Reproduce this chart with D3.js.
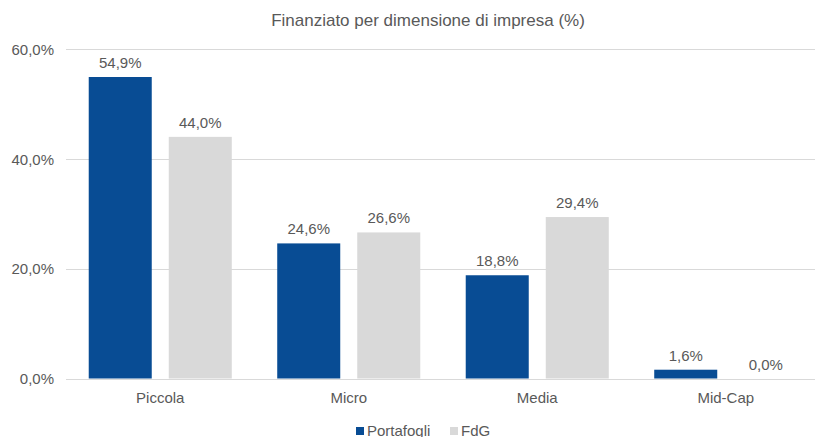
<!DOCTYPE html>
<html>
<head>
<meta charset="utf-8">
<script src="https://cdn.jsdelivr.net/npm/d3@7"></script>
<style>
  body { margin: 0; background: #fff; }
  text { font-family: "Liberation Sans", Arial, sans-serif; fill: #595959; }
</style>
</head>
<body>
<div id="chart"></div>
<script>
var categories = ["Piccola", "Micro", "Media", "Mid-Cap"];
var seriesNames = ["Portafogli", "FdG"];
var portafogli = [54.9, 24.6, 18.8, 1.6];
var fdg = [44.0, 26.6, 29.4, 0.0];
var yTicks = [0, 20, 40, 60];

var colors = {"Portafogli": "#084C94", "FdG": "#D9D9D9"};

var width = 815, height = 437;
var margin = {top: 49, bottom: 58, left: 66, right: -5};

var svg = d3.select("#chart")
  .append("svg")
    .attr("width", width)
    .attr("height", height);

var x = d3.scaleBand()
  .domain(categories)
  .range([margin.left, width - margin.right])
  .paddingInner(0)
  .paddingOuter(0);

var x1 = d3.scaleBand()
  .domain(seriesNames)
  .range([0, x.bandwidth()])
  .paddingInner(0.2125)
  .paddingOuter(0.284);

var y = d3.scaleLinear()
  .domain([0, 60])
  .range([height - margin.bottom - 0.5, margin.top]);

var fmt = function(v) { return d3.format(".1f")(v).replace(".", ",") + "%"; };

// title
svg.append("text")
  .attr("x", 428)
  .attr("y", 26)
  .attr("text-anchor", "middle")
  .style("font-size", "17px")
  .text("Finanziato per dimensione di impresa (%)");

// gridlines
svg.append("g")
  .selectAll("line")
  .data(yTicks)
  .enter()
  .append("line")
    .attr("x1", margin.left)
    .attr("x2", width)
    .attr("y1", function(d) { return Math.round(y(d)) + 0.5; })
    .attr("y2", function(d) { return Math.round(y(d)) + 0.5; })
    .attr("stroke", "#D9D9D9")
    .attr("stroke-width", 1);

// y axis labels
var yAxis = svg.append("g")
  .attr("transform", "translate(" + (margin.left - 12) + ",0)")
  .call(d3.axisLeft(y).tickValues(yTicks).tickSize(0).tickFormat(fmt));
yAxis.select(".domain").remove();
yAxis.selectAll("text")
  .attr("x", 0)
  .attr("dy", "0.35em")
  .style("font-size", "15px")
  .style("fill", "#595959");

// x axis labels
var xAxis = svg.append("g")
  .attr("transform", "translate(0," + (height - margin.bottom) + ")")
  .call(d3.axisBottom(x).tickSize(0));
xAxis.select(".domain").remove();
xAxis.selectAll("text")
  .attr("y", 13)
  .attr("dy", "0.71em")
  .style("font-size", "15px")
  .style("fill", "#595959");

var rows = categories.map(function(c, i) {
  return {cat: c, values: [
    {name: "Portafogli", value: portafogli[i]},
    {name: "FdG", value: fdg[i]}
  ]};
});

var groups = svg.append("g")
  .selectAll("g")
  .data(rows)
  .enter()
  .append("g")
    .attr("transform", function(d) { return "translate(" + x(d.cat) + ",0)"; });

groups.selectAll("rect")
  .data(function(d) { return d.values; })
  .enter()
  .append("rect")
    .attr("x", function(d) { return x1(d.name); })
    .attr("width", x1.bandwidth())
    .attr("y", function(d) { return y(d.value); })
    .attr("height", function(d) { return y(0) - y(d.value); })
    .attr("fill", function(d) { return colors[d.name]; });

groups.selectAll("text.lbl")
  .data(function(d) { return d.values; })
  .enter()
  .append("text")
    .attr("class", "lbl")
    .attr("x", function(d) { return x1(d.name) + x1.bandwidth() / 2; })
    .attr("y", function(d) { return y(d.value) - 9; })
    .attr("text-anchor", "middle")
    .style("font-size", "15px")
    .text(function(d) { return fmt(d.value); });

// legend
var legend = svg.append("g")
  .attr("transform", "translate(356,427)");
var legX = [0, 94];
seriesNames.forEach(function(s, i) {
  var g = legend.append("g").attr("transform", "translate(" + legX[i] + ",0)");
  g.append("rect")
    .attr("width", 8)
    .attr("height", 8)
    .attr("fill", colors[s]);
  g.append("text")
    .attr("x", 11)
    .attr("y", 8.5)
    .style("font-size", "15px")
    .text(s);
});
</script>
</body>
</html>
